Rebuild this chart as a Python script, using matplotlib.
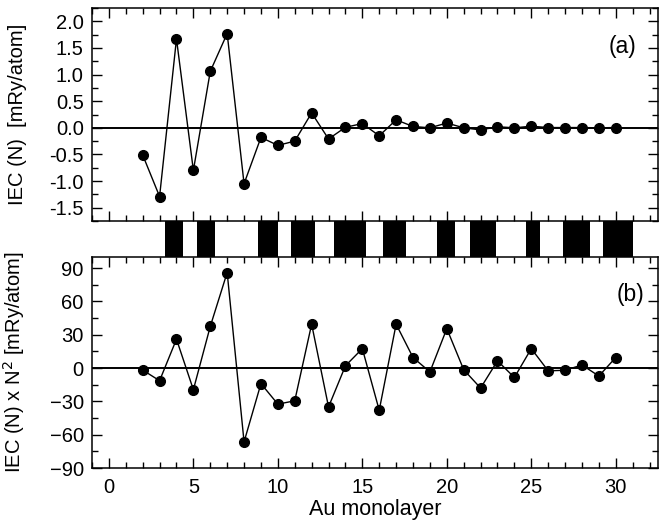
import numpy as np
import matplotlib.pyplot as plt
from matplotlib.ticker import MultipleLocator

plt.rcParams['font.family'] = ['Liberation Sans', 'DejaVu Sans']

# Au monolayer number
N = list(range(2, 31))

# panel (a): IEC(N) in mRy/atom
iec = [-0.51, -1.29, 1.67, -0.80, 1.06, 1.77, -1.05, -0.18, -0.33, -0.25,
       0.28, -0.21, 0.01, 0.08, -0.15, 0.15, 0.025, 0.0, 0.09, 0.0,
       -0.04, 0.02, 0.0, 0.03, 0.005, 0.005, 0.005, 0.0, 0.005]

# panel (b): IEC(N) x N^2
iec_n2 = [-1.8, -11.4, 26.0, -19.5, 37.5, 86.0, -66.5, -14.0, -32.5, -29.5,
          39.5, -35.0, 2.0, 17.5, -38.0, 39.5, 9.5, -3.5, 35.5, -1.5,
          -18.0, 6.5, -8.5, 17.5, -2.5, -2.0, 2.8, -7.2, 9.5]

# black blocks of the strip between the panels (start, end)
block_start = [3.3, 5.2, 8.8, 10.8, 13.3, 16.2, 19.4, 21.4, 24.7, 26.85, 29.25]
block_end = [4.4, 6.3, 10.0, 12.2, 15.2, 17.6, 20.5, 22.9, 25.5, 28.45, 31.0]

W, H = 659, 524
fig = plt.figure(figsize=(W / 100, H / 100), dpi=100)

left = 92 / W
width = (658 - 92) / W
ax_a = fig.add_axes([left, 1 - 221 / H, width, (221 - 8) / H])
ax_s = fig.add_axes([left, 1 - 257 / H, width, (257 - 221) / H])
ax_b = fig.add_axes([left, 1 - 468 / H, width, (468 - 257) / H])

fs = 14.5

for ax in (ax_a, ax_b):
    ax.set_xlim(-1, 32.5)
    ax.axhline(0, color='black', lw=1.4, zorder=1)
    ax.xaxis.set_major_locator(MultipleLocator(5))
    ax.xaxis.set_minor_locator(MultipleLocator(1))
    ax.tick_params(which='both', direction='in', top=True, right=True,
                   labelsize=fs, width=1)
    ax.tick_params(which='major', length=7)
    ax.tick_params(which='minor', length=4)
    ax.tick_params(axis='x', pad=7)
    ax.tick_params(axis='y', pad=6)
    for s in ax.spines.values():
        s.set_linewidth(1.1)

ax_a.plot(N, iec, '-o', color='black', lw=1, markersize=7, zorder=3)
ax_a.set_ylim(-1.75, 2.25)
ax_a.yaxis.set_minor_locator(MultipleLocator(0.25))
ax_a.set_yticks(np.arange(-1.5, 2.01, 0.5))
ax_a.yaxis.set_major_formatter(plt.FuncFormatter(lambda v, p: f'{v:.1f}'))
ax_a.tick_params(labelbottom=False)
ax_a.set_ylabel('IEC (N)  [mRy/atom]', fontsize=fs, labelpad=16)
ax_a.text(0.938, 0.817, '(a)', transform=ax_a.transAxes, fontsize=fs + 2,
          ha='center', va='center')

ax_b.plot(N, iec_n2, '-o', color='black', lw=1, markersize=7, zorder=3)
ax_b.set_ylim(-90, 100)
ax_b.set_yticks(np.arange(-90, 91, 30))
ax_b.yaxis.set_minor_locator(MultipleLocator(15))
ax_b.set_ylabel('IEC (N) x N$^2$ [mRy/atom]', fontsize=fs, labelpad=16)
ax_b.set_xlabel('Au monolayer', fontsize=fs + 1, labelpad=2)
ax_b.text(0.952, 0.82, '(b)', transform=ax_b.transAxes, fontsize=fs + 2,
          ha='center', va='center')

fig.align_ylabels([ax_a, ax_b])

# strip of black blocks
ax_s.set_xlim(-1, 32.5)
ax_s.set_ylim(0, 1)
ax_s.broken_barh([(s, e - s) for s, e in zip(block_start, block_end)], (0, 1),
                 facecolors='black')
ax_s.axis('off')

fig.savefig('out.png', dpi=100)
